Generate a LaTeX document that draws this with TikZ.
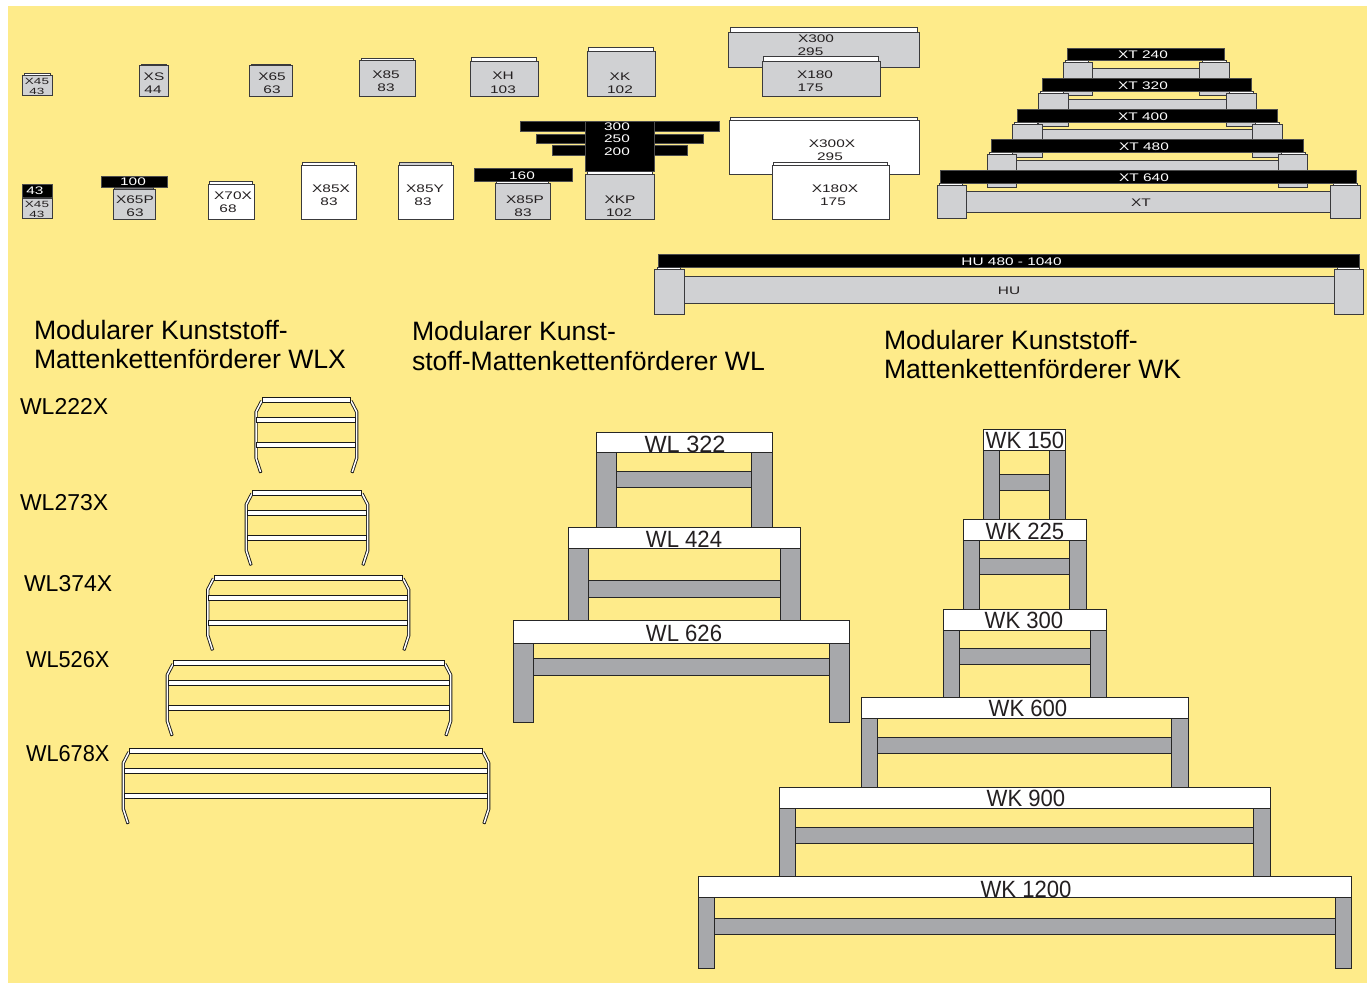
\documentclass[tikz,border=0pt]{standalone}
\usepackage{fontspec}
\setmainfont{Liberation Sans}
\definecolor{bgyel}{HTML}{FEEB8A}
\definecolor{lgray}{HTML}{D0D1D3}
\definecolor{mgray}{HTML}{A7A8AB}
\definecolor{ink}{HTML}{231F20}
\definecolor{edge}{HTML}{3A3A3C}
\newcount\nodeidx
\tikzset{
  panel/.style={draw=edge,line width=1pt},
  graypanel/.style={panel,fill=lgray},
  whitepanel/.style={panel,fill=white},
  blackbar/.style={fill=black,draw=black!70,line width=.6pt},
  steelbar/.style={draw=black!85,line width=.9pt,fill=mgray},
  frameleg/.style={draw=black!90,line width=.9pt,double=white,double distance=1.5pt,line join=round},
  framecap/.style={draw=black!90,line width=.9pt},
  framebar/.style={draw=black!90,line width=1pt,fill=white},
  txt/.style={inner sep=0pt,outer sep=0pt,text=ink},
}
\newcommand{\smalltxt}[6]{\global\advance\nodeidx by 1
  \node[txt,text=#4] (n\the\nodeidx) at (#1,{#2+.6}) {\fontsize{#3}{#3}\selectfont\scalebox{#5}[1]{#6}};}
\newcommand{\glab}[3]{\smalltxt{#1}{#2}{11pt}{ink}{1.4}{#3}}
\newcommand{\wlab}[3]{\smalltxt{#1}{#2}{11pt}{white}{1.4}{#3}}
\newcommand{\tlab}[3]{\smalltxt{#1}{#2}{9pt}{ink}{1.5}{#3}}
\newcommand{\tabbox}[7]{
  \draw[panel,fill=#7] ({#1+1.5},#3) rectangle ({#2-1.5},#4);
  \draw[#6] (#1,#4) rectangle (#2,#5);}
\newcommand{\bbar}[4]{\fill[blackbar] (#1,#3) rectangle (#2,#4);}
\newcommand{\conveyor}[9]{
  \draw[steelbar] (#1,#4) rectangle ({#1+#6},#5);
  \draw[steelbar] ({#2-#6},#4) rectangle (#2,#5);
  \draw[steelbar] ({#1+#6},#7) rectangle ({#2-#6},#8);
  \draw[draw=black!85,line width=.9pt,fill=white] (#1,#3) rectangle (#2,#4);
  \global\advance\nodeidx by 1
  \node[txt] (n\the\nodeidx) at #9;}
\newcommand{\xtunit}[8]{
  \draw[graypanel] ({#5+29.5},#8) rectangle (#6,{#8+12});
  \draw[graypanel] (#5,{#4+2}) rectangle ({#5+29.5},#7);
  \draw[graypanel] (#6,{#4+2}) rectangle ({#6+29.5},#7);
  \draw[edge,line width=.5pt,fill=white] ({#5+2},#4) rectangle ({#5+25},{#4+2});
  \draw[edge,line width=.5pt,fill=white] ({#6+3},#4) rectangle ({#6+27},{#4+2});
  \fill[blackbar] (#1,#3) rectangle (#2,#4);}
\newcommand{\wlxframe}[3]{
  \draw[frameleg] ({#1+6},{#3+3.5}) -- ({#1+.3},{#3+14.5}) -- ({#1+.3},{#3+60.5}) -- ({#1+5},{#3+75});
  \draw[frameleg] ({#2-6},{#3+3.5}) -- ({#2-.3},{#3+14.5}) -- ({#2-.3},{#3+60.5}) -- ({#2-5},{#3+75});
  \draw[framecap] ({#1+3.9},{#3+75.35}) -- ({#1+6.1},{#3+74.65});
  \draw[framecap] ({#2-3.9},{#3+75.35}) -- ({#2-6.1},{#3+74.65});
  \draw[framebar] ({#1+6.5},#3) rectangle ({#2-6.5},{#3+5});
  \draw[framebar] ({#1+1.2},{#3+20}) rectangle ({#2-1.2},{#3+25});
  \draw[framebar] ({#1+1.2},{#3+45}) rectangle ({#2-1.2},{#3+50});}
\newcommand{\heading}[3]{\global\advance\nodeidx by 1
  \node[txt,text=black,anchor=base west] (n\the\nodeidx) at (#1,#2) {\fontsize{26.6pt}{26.6pt}\selectfont #3};}
\newcommand{\wllab}[4]{\global\advance\nodeidx by 1
  \node[txt,text=black,anchor=base west] (n\the\nodeidx) at (#1,#2) {\fontsize{23pt}{23pt}\selectfont\scalebox{#3}[1]{#4}};}
\newcommand{\wktxt}[1]{{\fontsize{23.5pt}{23.5pt}\selectfont\scalebox{.94}[1]{#1}}}
\begin{document}
\begin{tikzpicture}[x=1pt,y=-1pt]
\path[use as bounding box] (0,0) rectangle (1367,983);
\fill[white] (0,0) rectangle (1367,983);
\fill[bgyel] (8,6) rectangle (1367,983);
% --- row 1
\tabbox{22.5}{52}{73.5}{75.5}{95}{graypanel}{white}
\tlab{37}{81}{X45}\tlab{37}{91}{43}
\tabbox{139.5}{168}{64}{65.5}{96}{graypanel}{gray}
\glab{154}{76}{XS}\glab{153}{89}{44}
\tabbox{249.5}{292}{64}{65.5}{96}{graypanel}{gray}
\glab{272}{76}{X65}\glab{272}{89}{63}
\tabbox{359.5}{415}{58}{60.5}{96}{graypanel}{white}
\glab{386}{74}{X85}\glab{386}{87}{83}
\tabbox{470}{538}{57.5}{61}{96}{graypanel}{white}
\glab{503}{75}{XH}\glab{503}{89}{103}
\tabbox{587}{655}{47.5}{51}{96}{graypanel}{white}
\glab{620}{76}{XK}\glab{620}{89}{102}
\tabbox{728.5}{919}{27.5}{32}{67}{graypanel}{white}
\glab{816}{38}{X300}\glab{810.5}{51}{295}
\tabbox{762}{880}{56.5}{61}{96}{graypanel}{white}
\glab{815}{74}{X180}\glab{810.5}{87}{175}
% --- row 2
\bbar{22}{52}{184.5}{197}
\wlab{35}{190.5}{43}
\tabbox{22.5}{52}{197}{198.5}{218}{graypanel}{white}
\tlab{37}{204}{X45}\tlab{37}{214}{43}
\bbar{101}{167}{176.5}{187}
\wlab{133}{181.5}{100}
\tabbox{113}{155}{187}{189.5}{219}{graypanel}{gray}
\glab{135}{199}{X65P}\glab{135}{212}{63}
\tabbox{208}{254}{181.5}{184}{219}{whitepanel}{white}
\glab{233}{195}{X70X}\glab{228}{208}{68}
\tabbox{301}{356}{162.5}{165}{219}{whitepanel}{white}
\glab{331}{188}{X85X}\glab{329}{201}{83}
\tabbox{398}{453}{162.5}{165}{219}{whitepanel}{lgray}
\glab{425}{188}{X85Y}\glab{423}{201}{83}
\bbar{474}{572}{168.5}{181}
\wlab{522}{175}{160}
\tabbox{495}{550}{181}{183.5}{219}{graypanel}{white}
\glab{525}{199}{X85P}\glab{523}{212}{83}
\bbar{520}{719}{121.5}{131}
\bbar{536}{703}{134}{143}
\bbar{552}{687}{145.5}{155}
\bbar{585.5}{654}{121.5}{171}
\wlab{617}{126.5}{300}\wlab{617}{138}{250}\wlab{617}{151}{200}
\tabbox{585.5}{654}{171}{174}{219}{graypanel}{white}
\glab{620}{199}{XKP}\glab{619}{212}{102}
\tabbox{729}{919}{117.5}{120.5}{174}{whitepanel}{white}
\glab{832}{143}{X300X}\glab{830}{156}{295}
\tabbox{772}{889}{162}{165}{219}{whitepanel}{white}
\glab{835}{188}{X180X}\glab{833}{201}{175}
% --- XT family
\xtunit{1067}{1224}{48}{60.5}{1063}{1199.5}{95}{68}
\xtunit{1042}{1251}{78.5}{91}{1038.5}{1226.5}{126}{99}
\xtunit{1017}{1277}{109}{122}{1012.5}{1252.5}{157}{129}
\xtunit{991}{1303}{139.5}{152}{987}{1278}{187}{160}
\xtunit{940}{1356}{170}{183}{937}{1330.5}{218}{191}
\draw[graypanel] (966.5,191) rectangle (1330.5,212);
\wlab{1143}{54}{XT 240}\wlab{1143}{85}{XT 320}\wlab{1143}{116}{XT 400}\wlab{1144}{146}{XT 480}\wlab{1144}{177}{XT 640}
\glab{1141}{202}{XT}
% --- HU
\fill[blackbar] (658,254.5) rectangle (1359,267);
\draw[graypanel] (684,276) rectangle (1334,303);
\draw[graypanel] (654.5,269) rectangle (684,314);
\draw[graypanel] (1334,269) rectangle (1363,314);
\draw[edge,line width=.5pt,fill=white] (657,267) rectangle (680,269);
\draw[edge,line width=.5pt,fill=white] (1337,267) rectangle (1359,269);
\wlab{1011.5}{261}{HU 480 - 1040}
\glab{1009}{290}{HU}
% --- headings
\heading{34}{339}{Modularer Kunststoff-}
\heading{34}{368}{Mattenkettenförderer WLX}
\heading{412}{340}{Modularer Kunst-}
\heading{412}{370}{stoff-Mattenkettenförderer WL}
\heading{884}{349}{Modularer Kunststoff-}
\heading{884}{378}{Mattenkettenförderer WK}
% --- WLX
\wllab{20}{414}{1}{WL222X}
\wllab{20}{510}{1}{WL273X}
\wllab{24}{591}{1}{WL374X}
\wllab{26}{667}{.945}{WL526X}
\wllab{26}{761}{.945}{WL678X}
\wlxframe{255.7}{357}{397.5}
\wlxframe{246}{368}{490}
\wlxframe{207.5}{409}{575}
\wlxframe{167}{451}{660.5}
\wlxframe{123}{489}{748.5}
% --- WL
\conveyor{596.5}{772}{432}{452}{527}{20.3}{471}{487}{(685,444.5) {\fontsize{23.5pt}{23.5pt}\selectfont WL 322}}
\conveyor{568.5}{800.5}{527}{548}{620}{20.3}{580}{597}{(684,539.5) {\wktxt{WL 424}}}
\conveyor{513.5}{849.5}{620}{643}{722}{20.3}{658}{675}{(684,633) {\wktxt{WL 626}}}
% --- WK
\conveyor{983.5}{1065.5}{429.5}{450.5}{519}{16.3}{474.3}{490.3}{(1025,440.3) {\wktxt{WK 150}}}
\conveyor{963}{1086}{519}{540.5}{609}{16.3}{558}{574.5}{(1025,531.3) {\wktxt{WK 225}}}
\conveyor{943}{1106.5}{609}{630}{697.5}{16.3}{648}{664.5}{(1024,620.3) {\wktxt{WK 300}}}
\conveyor{861}{1188}{697.5}{718}{787.5}{16.3}{737}{753}{(1028,708.3) {\wktxt{WK 600}}}
\conveyor{779.5}{1270}{787.5}{808}{876.5}{16.3}{827}{843.5}{(1026,798.3) {\wktxt{WK 900}}}
\conveyor{698}{1351.5}{876.5}{897}{968.5}{16.3}{918.5}{934.5}{(1026,889.3) {\wktxt{WK 1200}}}
\end{tikzpicture}
\end{document}
